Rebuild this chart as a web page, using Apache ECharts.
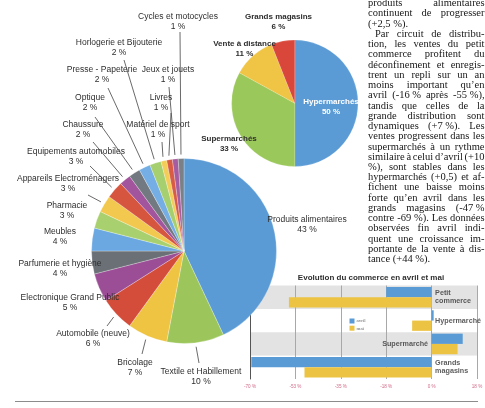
<!DOCTYPE html>
<html><head><meta charset="utf-8">
<script src="https://cdn.jsdelivr.net/npm/echarts@6/dist/echarts.min.js"></script>
<style>html,body{margin:0;padding:0;background:#fff}#c{width:485px;height:408px}</style>
</head><body><div id="c"></div>
<script>
// ---- Data ----
const secteurs = ['Produits alimentaires','Textile et Habillement','Bricolage','Automobile (neuve)','Electronique Grand Public','Parfumerie et hygiène','Meubles','Pharmacie','Appareils Electroménagers','Equipements automobiles','Chaussure','Optique','Presse - Papeterie','Horlogerie et Bijouterie','Matériel de sport','Livres','Jeux et jouets','Cycles et motocycles'];
const partsSecteurs = [43,10,7,6,5,4,4,3,3,3,2,2,2,2,1,1,1,1];

const circuits = ['Hypermarchés','Supermarchés','Vente à distance','Grands magasins'];
const partsCircuits = [50,33,11,6];

const categories = ['Petit commerce','Hypermarché','Supermarché','Grands magasins'];
const categoryLabels = ['Petit\ncommerce','Hypermarché','Supermarché','Grands\nmagasins'];
const avril = [-17.5, 0.8, 12, -69.5];
const mai = [-55, -7.5, 10, -49];
const seriesNames = ['avril','mai'];
const chartTitle = 'Evolution du commerce en avril et mai';

const colLines = [
 'produits alimentaires',
 'continuent de progresser',
 '(+2,5\u00a0%).',
 'Par circuit de distribu-',
 'tion, les ventes du petit',
 'commerce profitent du',
 'déconfinement et enregis-',
 'trent un repli sur un an',
 'moins important qu’en',
 'avril (-16\u00a0% après -55\u00a0%),',
 'tandis que celles de la',
 'grande distribution sont',
 'dynamiques (+7\u00a0%). Les',
 'ventes progressent dans les',
 'supermarchés à un rythme',
 'similaire à celui d’avril (+10',
 '%), sont stables dans les',
 'hypermarchés (+0,5) et af-',
 'fichent une baisse moins',
 'forte qu’en avril dans les',
 'grands magasins (-47\u00a0%',
 'contre -69\u00a0%). Les données',
 'observées fin avril indi-',
 'quent une croissance im-',
 'portante de la vente à dis-',
 'tance (+44\u00a0%).'
];
const paraEnds = [2, 25];
const paraStarts = [3];

// ---- Layout (label placements, not data) ----
const C = [184, 251], R = 92.5;
const bigLabelPos = {
 'Produits alimentaires':[307,225], 'Textile et Habillement':[201,377], 'Bricolage':[135,368],
 'Automobile (neuve)':[93,339], 'Electronique Grand Public':[70,303], 'Parfumerie et hygiène':[60,269],
 'Meubles':[60,237], 'Pharmacie':[67,210.5], 'Appareils Electroménagers':[68,183.5],
 'Equipements automobiles':[76,157], 'Chaussure':[83,130], 'Optique':[90,103],
 'Presse - Papeterie':[102,75], 'Horlogerie et Bijouterie':[119,48], 'Matériel de sport':[158,130],
 'Livres':[161,103], 'Jeux et jouets':[168,75], 'Cycles et motocycles':[178,22]
};
const bigLineStart = {
 'Cycles et motocycles':[180,32], 'Jeux et jouets':[169,87], 'Livres':[171,113], 'Matériel de sport':[162,142],
 'Horlogerie et Bijouterie':[124,60], 'Presse - Papeterie':[108,88], 'Optique':[95,117], 'Chaussure':[93,142],
 'Equipements automobiles':[90,166], 'Appareils Electroménagers':[88,195], 'Automobile (neuve)':[107,326],
 'Bricolage':[142,354], 'Textile et Habillement':[199,363]
};
const smallLabelPos = {'Hypermarchés':[331,106.5],'Supermarchés':[229,143.5],'Vente à distance':[244.5,48.5],'Grands magasins':[278.5,21.5]};

const bigColors = ['#5B9BD5','#9CC65B','#F0C443','#D44D3A','#9B4D96','#6A7076',
                   '#6BA8E2','#A9D06E','#F2C94E','#D6553F','#A2559C','#737980',
                   '#74AEE4','#A6CF70','#F3CD58','#D85C45','#A65CA0','#7A8086'];
const smallColors = ['#5B9BD5','#9BC85A','#F0C445','#D9473A'];

function fmtTick(v){ const a = Math.round(Math.abs(v)); return (v<0?'-':'') + a + ' %'; }

const total = partsSecteurs.reduce((a,b)=>a+b,0);
function edgePoint(i){
  let cum = 0; for (let k=0;k<i;k++) cum += partsSecteurs[k];
  const ang = (cum + partsSecteurs[i]/2)/total*2*Math.PI;
  return [C[0] + R*Math.sin(ang), C[1] - R*Math.cos(ang)];
}

const bigData = secteurs.map((n,i)=>({name:n, value:partsSecteurs[i], labelLine:{show: !!bigLineStart[n]}}));
const smallData = circuits.map((n,i)=>({name:n, value:partsCircuits[i], label: i===0 ? {color:'#fff'} : {color:'#2e2e2e'}}));

// ---- Text column (justified) ----
const colFont = 10.5, colFamily = '"Liberation Serif", "Times New Roman", serif';
const ctx = document.createElement('canvas').getContext('2d');
ctx.font = colFont + 'px ' + colFamily;
const colX0 = 368, colX1 = 484.5, colY0 = 3.4, colLH = 10.24, indent = 7;
const graphics = [];
colLines.forEach((line, i) => {
  const y = colY0 + i*colLH;
  const x0 = colX0 + (paraStarts.includes(i) ? indent : 0);
  const words = line.split(' ');
  const ws = words.map(w => ctx.measureText(w).width);
  const sum = ws.reduce((a,b)=>a+b,0);
  let gap = ctx.measureText(' ').width;
  if (!paraEnds.includes(i) && words.length > 1) gap = (colX1 - x0 - sum)/(words.length-1);
  let x = x0;
  words.forEach((w,k) => {
    graphics.push({type:'text', x:x, y:y, silent:true, style:{text:w, font: colFont+'px '+colFamily, fill:'#161616', align:'left', verticalAlign:'middle'}});
    x += ws[k] + gap;
  });
});
graphics.push({type:'text', x:371, y:277.5, silent:true, style:{text:chartTitle, font:'bold 8px "Liberation Sans", Arial, sans-serif', fill:'#2e2e2e', align:'center', verticalAlign:'middle'}});
graphics.push({type:'line', silent:true, shape:{x1:15,y1:401.5,x2:478,y2:401.5}, style:{stroke:'#8c8c8c', lineWidth:1}});

const chart = echarts.init(document.getElementById('c'), null, {renderer:'canvas'});
chart.setOption({
  animation:false,
  backgroundColor:'#fff',
  textStyle:{fontFamily:'"Liberation Sans", Arial, sans-serif'},
  legend:{data:seriesNames, orient:'vertical', left:349.5, top:318.5, padding:0, itemWidth:5, itemHeight:5, itemGap:2.2, icon:'rect',
    textStyle:{fontSize:5, color:'#666', fontFamily:'"Liberation Serif", serif', padding:[0,0,0,-3]}},
  grid:{left:250, top:285.5, width:227, height:93.5, containLabel:false, outerBoundsMode:'none'},
  xAxis:{type:'value', min:-70, max:17.5, interval:17.5,
    axisLine:{show:false}, axisTick:{show:false},
    splitLine:{show:true, lineStyle:{color:'#a8a8a8', width:1}},
    axisLabel:{formatter:fmtTick, fontSize:4.6, color:'#d26b88', margin:5}},
  yAxis:{type:'category', data:categories, inverse:true,
    axisLine:{show:true, onZero:false, lineStyle:{color:'#555', width:1}},
    axisTick:{show:false}, axisLabel:{show:false}, splitLine:{show:false},
    splitArea:{show:true, areaStyle:{color:['#e3e3e3','#ffffff']}}},
  series:[
    {type:'bar', name:seriesNames[0], data:avril, barGap:'0%', barCategoryGap:'12%', itemStyle:{color:'#5B9BD5'}, silent:true, z:2},
    {type:'bar', name:seriesNames[1], data:mai, barGap:'0%', barCategoryGap:'12%', itemStyle:{color:'#ECC343'}, silent:true, z:2},
    {type:'scatter', data:categories.map((c,i)=>({value:[0,i], label:{position:(avril[i]>0 && mai[i]>0)?'left':'right'}})),
      symbolSize:1, itemStyle:{color:'rgba(0,0,0,0)'}, silent:true, z:4,
      label:{show:true, distance:3, formatter:p=>categoryLabels[p.dataIndex], fontSize:7.2, lineHeight:8, fontWeight:'bold', color:'#333'}},
    {type:'pie', name:'secteurs', center:C, radius:R, startAngle:90, clockwise:true, z:5, silent:true,
      avoidLabelOverlap:false, data:bigData,
      itemStyle:{color:p=>bigColors[p.dataIndex], borderColor:'rgba(255,255,255,0.45)', borderWidth:0.6},
      label:{show:true, position:'outside', formatter:'{b}\n{c} %', fontSize:8.5, lineHeight:10, color:'#2e2e2e'},
      labelLine:{show:true, length:5, length2:5, lineStyle:{color:'#444', width:0.8}},
      labelLayout:function(p){
        const name = secteurs[p.dataIndex];
        const pos = bigLabelPos[name];
        const res = {x:pos[0], y:pos[1], align:'center', verticalAlign:'middle'};
        const st = bigLineStart[name];
        if (st) {
          const e = (p.labelLinePoints && p.labelLinePoints[0]) ? p.labelLinePoints[0] : edgePoint(p.dataIndex);
          const k = (R+4)/R;
          res.labelLinePoints = [st, [C[0]+(e[0]-C[0])*k, C[1]+(e[1]-C[1])*k]];
        }
        return res;
      }},
    {type:'pie', name:'circuits', center:[294.8,103.3], radius:63.2, startAngle:90, clockwise:true, z:5, silent:true,
      avoidLabelOverlap:false, data:smallData,
      itemStyle:{color:p=>smallColors[p.dataIndex], borderColor:'rgba(255,255,255,0.3)', borderWidth:0.5},
      label:{show:true, position:'outside', formatter:'{b}\n{c} %', fontSize:8, lineHeight:10, fontWeight:'bold'},
      labelLine:{show:false},
      labelLayout:function(p){ const pos = smallLabelPos[circuits[p.dataIndex]]; return {x:pos[0], y:pos[1], align:'center', verticalAlign:'middle'}; }}
  ],
  graphic:graphics
});
</script></body></html>
